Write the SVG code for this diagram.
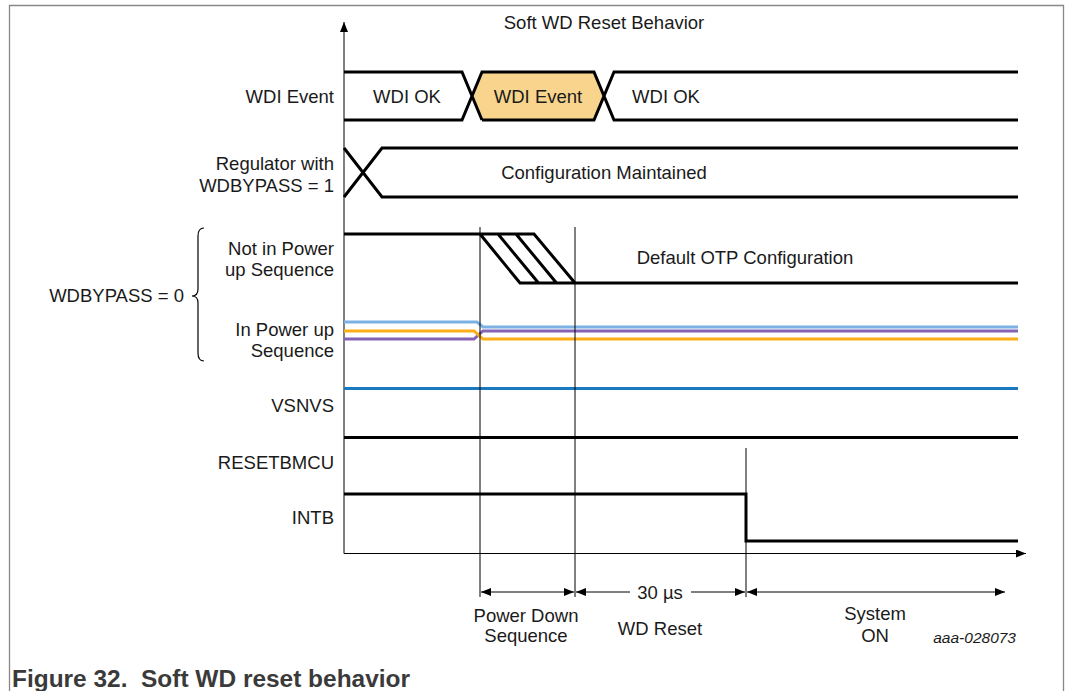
<svg xmlns="http://www.w3.org/2000/svg" width="1066" height="691" viewBox="0 0 1066 691">
<style>
text{font-family:"Liberation Sans",Arial,sans-serif;font-size:18.5px;fill:#1a1a1a}
.r{text-anchor:end}
.m{text-anchor:middle}
.sig{fill:none;stroke:#000;stroke-width:3;stroke-linejoin:miter}
.thin{fill:none;stroke:#000;stroke-width:1}
.cap{font-weight:bold;font-size:23px;fill:#3a3a3a}
</style>
<defs>
<marker id="ah" viewBox="0 0 10 8" refX="10" refY="4" markerWidth="10" markerHeight="8" markerUnits="userSpaceOnUse" orient="auto-start-reverse">
<path d="M0,0 L10,4 L0,8 z" fill="#000"/>
</marker>
</defs>
<rect width="1066" height="691" fill="#fff"/>
<g id="frame">
<path d="M9.5,691 V5.5 H1063.5 V691" fill="none" stroke="#888" stroke-width="1.3"/>
</g>
<g id="axes">
<line x1="344" y1="553.5" x2="344" y2="22" class="thin" stroke-width="1.5" marker-end="url(#ah)"/>
<line x1="344" y1="553.5" x2="1026" y2="553.5" class="thin" stroke-width="1.5" marker-end="url(#ah)"/>
</g>
<g id="title"><text x="604" y="29" class="m">Soft WD Reset Behavior</text></g>
<g id="labels">
<text x="334" y="103" class="r">WDI Event</text>
<text x="334" y="170" class="r">Regulator with</text>
<text x="334" y="192" class="r">WDBYPASS = 1</text>
<text x="334" y="255" class="r">Not in Power</text>
<text x="334" y="276" class="r">up Sequence</text>
<text x="184" y="302" class="r">WDBYPASS = 0</text>
<text x="334" y="336" class="r">In Power up</text>
<text x="334" y="357" class="r">Sequence</text>
<text x="334" y="412" class="r">VSNVS</text>
<text x="334" y="469" class="r">RESETBMCU</text>
<text x="334" y="524" class="r">INTB</text>
<path d="M204,228 Q198,228 198,236 V289 Q198,296 192,296 Q198,296 198,303 V353 Q198,361 204,361" fill="none" stroke="#000" stroke-width="1.2"/>
</g>
<g id="wdi">
<path d="M482,72 H594 L604,96 L594,120 H482 L472,96 Z" fill="#f8d48c" stroke="none"/>
<path class="sig" d="M344,72 H462 L482,120 M344,120 H462 L482,72 H594 L614,120 H1018 M482,120 H594 L614,72 H1018"/>
<text x="407" y="103" class="m">WDI OK</text>
<text x="538" y="103" class="m">WDI Event</text>
<text x="666" y="103" class="m">WDI OK</text>
</g>
<g id="regulator">
<path class="sig" d="M344,148 L382,197 H1018 M344,197 L382,148 H1018"/>
<text x="604" y="179" class="m">Configuration Maintained</text>
</g>
<g id="notpower">
<path class="sig" d="M344,234 H534 L575,283 H1018 M480,234 L520,283 H575 M498,234 L538.5,283 M516,234 L556.5,283"/>
<text x="745" y="264" class="m">Default OTP Configuration</text>
</g>
<g id="inpower">
<path d="M344,322 H477 L483,327 H1018" fill="none" stroke="#7cb2e3" stroke-width="3"/>
<path d="M344,339 H474 L483,331 H1018" fill="none" stroke="#8462b6" stroke-width="3"/>
<path d="M344,331 H474 L483,339 H1018" fill="none" stroke="#fbae17" stroke-width="3"/>
</g>
<g id="vsnvs"><line x1="344" y1="388.5" x2="1018" y2="388.5" stroke="#1a7abf" stroke-width="3"/></g>
<g id="resetbmcu"><line x1="344" y1="437.5" x2="1018" y2="437.5" class="sig"/></g>
<g id="intb"><path class="sig" d="M344,494 H746 V541 H1018"/></g>
<g id="connectors">
<line x1="480" y1="227" x2="480" y2="597" class="thin"/>
<line x1="575" y1="227" x2="575" y2="597" class="thin"/>
<line x1="746" y1="448" x2="746" y2="597" class="thin"/>
<line x1="481" y1="592" x2="574" y2="592" class="thin" marker-start="url(#ah)" marker-end="url(#ah)"/>
<line x1="576" y1="592" x2="630" y2="592" class="thin" marker-start="url(#ah)"/>
<line x1="691" y1="592" x2="745" y2="592" class="thin" marker-end="url(#ah)"/>
<line x1="747" y1="592" x2="1005" y2="592" class="thin" marker-start="url(#ah)" marker-end="url(#ah)"/>
</g>
<g id="timing-labels">
<text x="660" y="599" class="m">30 µs</text>
<text x="526" y="622" class="m">Power Down</text>
<text x="526" y="642" class="m">Sequence</text>
<text x="660" y="635" class="m">WD Reset</text>
<text x="875" y="620" class="m">System</text>
<text x="875" y="642" class="m">ON</text>
<text x="1016" y="643" class="r" style="font-style:italic;font-size:15.5px">aaa-028073</text>
</g>
<g id="caption"><text x="12" y="687" class="cap" xml:space="preserve" textLength="398" lengthAdjust="spacingAndGlyphs">Figure 32.  Soft WD reset behavior</text></g>
</svg>
